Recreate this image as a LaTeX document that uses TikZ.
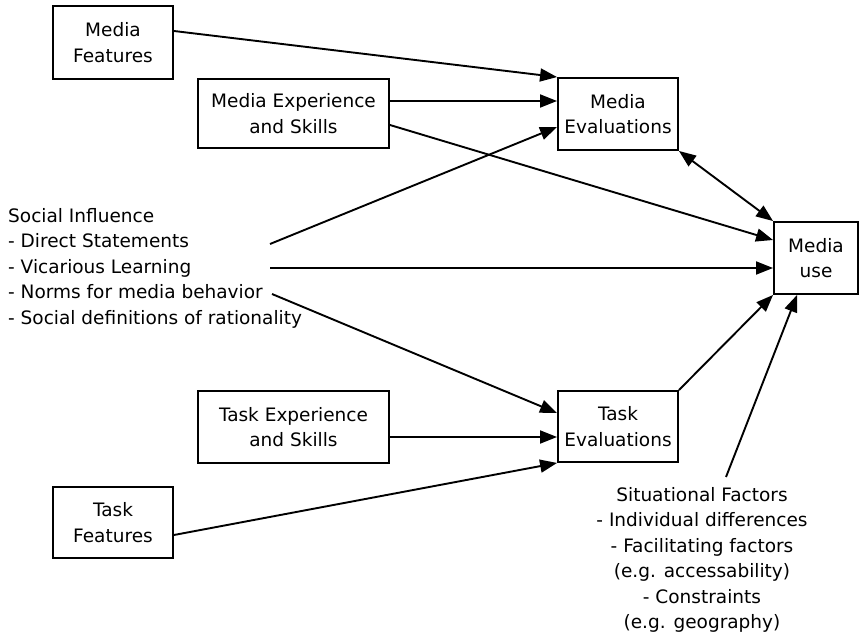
\documentclass[tikz,border=0pt]{standalone}
\usepackage{fontspec}
\setmainfont{DejaVu Sans}
\usetikzlibrary{calc}
\usetikzlibrary{arrows.meta}

\begin{document}
\begin{tikzpicture}[x=1pt, y=-1pt,
    box/.style={draw, line width=1.9pt, align=center, inner sep=0pt,
      font=\fontsize{18.5}{25.5}\selectfont},
    note/.style={inner sep=0pt, font=\fontsize{18.5}{25.5}\selectfont},
    arr/.style={line width=1.9pt, -{Triangle[length=17pt, width=13pt]}},
    darr/.style={line width=1.9pt, {Triangle[length=17pt, width=13pt]}-{Triangle[length=17pt, width=13pt]}}]
    \useasboundingbox (0, 0) rectangle (868, 636);

    \node[box, minimum width=120, minimum height=73] (mfeat) at (113, 42.5) {Media\\Features};
    \node[box, minimum width=191, minimum height=69] (mexp) at (293.5, 113.5) {Media Experience\\and Skills};
    \node[box, minimum width=120, minimum height=72] (meval) at (618, 114) {Media\\Evaluations};
    \node[box, minimum width=84, minimum height=72] (muse) at (816, 258) {Media\\use};

    \node[box, minimum width=191, minimum height=72] (texp) at (293.5, 427) {Task Experience\\and Skills};
    \node[box, minimum width=120, minimum height=71] (teval) at (618, 426.5) {Task\\Evaluations};
    \node[box, minimum width=120, minimum height=71] (tfeat) at (113, 522.5) {Task\\Features};

    \node[note, align=left, anchor=west] (social) at (8, 268) {Social Influence\\- Direct Statements\\- Vicarious Learning\\- Norms for media behavior\\- Social definitions of rationality};
    \node[note, align=center] (situ) at (702, 560) {Situational Factors\\- Individual differences\\- Facilitating factors\\(e.g. accessability)\\- Constraints\\(e.g. geography)};

    \coordinate (sdirect) at (270, 244);
    \coordinate (svicar) at (270, 268);
    \coordinate (snorms) at (272, 294);
    \coordinate (sfact) at (726, 477);

    % media side
    \draw[arr] ([yshift=11.5pt]mfeat.east) -- (meval.north west);
    \draw[arr] ([yshift=12.5pt]mexp.east) -- ([yshift=13pt]meval.west);
    \draw[arr] (sdirect) -- ([yshift=-13pt]meval.west);
    \draw[arr] ([yshift=-11.5pt]mexp.east) -- ([yshift=18pt]muse.west);
    \draw[darr] (meval.south east) -- (muse.north west);
    \draw[arr] (svicar) -- ([yshift=-10pt]muse.west);

    % task side
    \draw[arr] (snorms) -- ([yshift=13.5pt]teval.west);
    \draw[arr] ([yshift=-10pt]texp.east) -- ([yshift=-10.5pt]teval.west);
    \draw[arr] ([yshift=-12.5pt]tfeat.east) -- (teval.south west);
    \draw[arr] (teval.north east) -- (muse.south west);
    \draw[arr] (sfact) -- ([xshift=24pt]muse.south west);
\end{tikzpicture}
\end{document}
